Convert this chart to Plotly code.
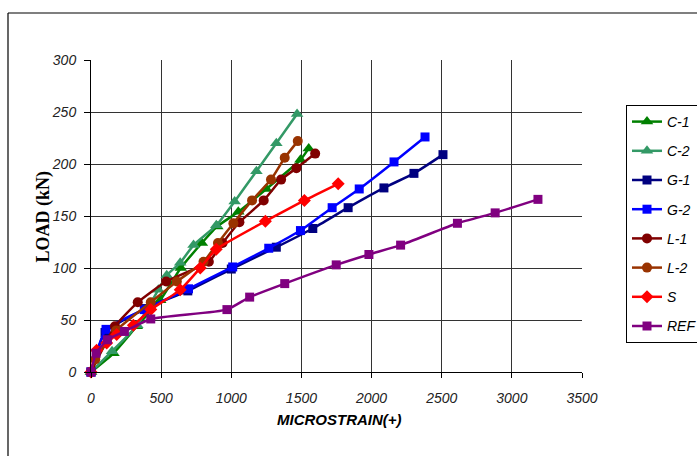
import plotly.graph_objects as go

# ---- data ----
c1_x = [0, 160, 326, 493, 640, 790, 900, 1050, 1250, 1493, 1552]
c1_y = [0, 18, 44, 69, 100, 124, 140, 154, 176, 204, 215]

c2_x = [0, 150, 330, 480, 540, 636, 731, 893, 1024, 1179, 1321, 1469]
c2_y = [0, 20, 45, 79, 93, 105, 122, 141, 164, 193, 220, 248]

g1_x = [0, 100, 388, 690, 1000, 1321, 1581, 1833, 2088, 2302, 2509]
g1_y = [0, 38, 61, 78, 99, 120, 138, 158, 177, 191, 209]

g2_x = [0, 107, 380, 695, 1010, 1267, 1493, 1719, 1912, 2160, 2381]
g2_y = [0, 41, 60, 80, 101, 119, 136, 158, 176, 202, 226]

l1_x = [0, 171, 333, 536, 840, 938, 1058, 1231, 1355, 1464, 1598]
l1_y = [0, 44, 67, 87, 106, 124, 144, 165, 185, 196, 210]

l2_x = [0, 30, 180, 426, 612, 802, 905, 1015, 1148, 1283, 1381, 1474]
l2_y = [0, 12, 40, 67, 87, 106, 124, 143, 165, 185, 206, 222]

s_x = [0, 40, 112, 183, 302, 426, 636, 779, 893, 1243, 1521, 1762]
s_y = [0, 21, 28, 36, 45, 60, 79, 100, 118, 145, 165, 181]

ref_x = [0, 36, 117, 238, 426, 969, 1131, 1381, 1748, 1981, 2207, 2612, 2881, 3186]
ref_y = [0, 18, 31, 39, 51, 60, 72, 85, 103, 113, 122, 143, 153, 166]

series = [
    ("C-1", c1_x, c1_y, "#008000", "triangle-up", 11),
    ("C-2", c2_x, c2_y, "#339966", "triangle-up", 11),
    ("G-1", g1_x, g1_y, "#000080", "square", 9),
    ("G-2", g2_x, g2_y, "#0000FF", "square", 9),
    ("L-1", l1_x, l1_y, "#800000", "circle", 10),
    ("L-2", l2_x, l2_y, "#993300", "circle", 10),
    ("S", s_x, s_y, "#FF0000", "diamond", 10),
    ("REF", ref_x, ref_y, "#800080", "square", 9),
]

fig = go.Figure()
for name, xs, ys, col, sym, sz in series:
    fig.add_trace(go.Scatter(
        x=xs, y=ys, name=name, mode="lines+markers",
        line=dict(color=col, width=2.5, shape="spline", smoothing=0.5),
        marker=dict(color=col, symbol=sym, size=sz),
        cliponaxis=False, legendgroup=name,
    ))

W, H = 697, 456
L, R, T, B = 91, 582, 60, 372
pw, ph = R - L, B - T

def px(xp):
    return (xp - L) / pw

def py(yp):
    return (B - yp) / ph

tick_font = dict(family="Liberation Sans, Arial", size=14, color="#222", style="italic")

fig.update_layout(
    width=W, height=H,
    margin=dict(l=L, r=W - R, t=T, b=H - B, autoexpand=False),
    paper_bgcolor="white", plot_bgcolor="white",
    showlegend=True,
    legend=dict(
        x=px(626), y=py(105), xanchor="left", yanchor="top",
        bordercolor="black", borderwidth=1, bgcolor="white",
        font=dict(family="Liberation Sans, Arial", size=14, color="black", style="italic"),
        tracegroupgap=8, itemwidth=30,
    ),
    xaxis=dict(
        range=[0, 3500], tickvals=[0, 500, 1000, 1500, 2000, 2500, 3000, 3500],
        showgrid=True, gridcolor="#333", gridwidth=1,
        showline=True, linecolor="black", linewidth=1,
        ticks="outside", ticklen=5, tickcolor="black",
        tickfont=tick_font, ticklabelstandoff=8, zeroline=False,
    ),
    yaxis=dict(
        range=[0, 300], tickvals=[0, 50, 100, 150, 200, 250, 300],
        showgrid=True, gridcolor="#333", gridwidth=1,
        showline=True, linecolor="black", linewidth=1,
        ticks="outside", ticklen=6, tickcolor="black",
        tickfont=tick_font, ticklabelstandoff=5, zeroline=False,
    ),
    annotations=[
        dict(text="<b>LOAD (kN)</b>", xref="paper", yref="paper",
             x=px(30), y=py(217), showarrow=False, textangle=-90,
             font=dict(family="Liberation Serif, Times New Roman", size=18, color="black")),
        dict(text="<b><i>MICROSTRAIN(+)</i></b>", xref="paper", yref="paper",
             x=px(339), y=py(430), showarrow=False,
             font=dict(family="Liberation Sans, Arial", size=15, color="black")),
    ],
    shapes=[
        dict(type="line", xref="paper", yref="paper", x0=px(8), x1=px(W + 5),
             y0=py(13), y1=py(13), line=dict(color="black", width=1.2)),
        dict(type="line", xref="paper", yref="paper", x0=px(8), x1=px(8),
             y0=py(13), y1=py(H + 5), line=dict(color="black", width=1.2)),
    ],
)

fig.write_html("out.html")
